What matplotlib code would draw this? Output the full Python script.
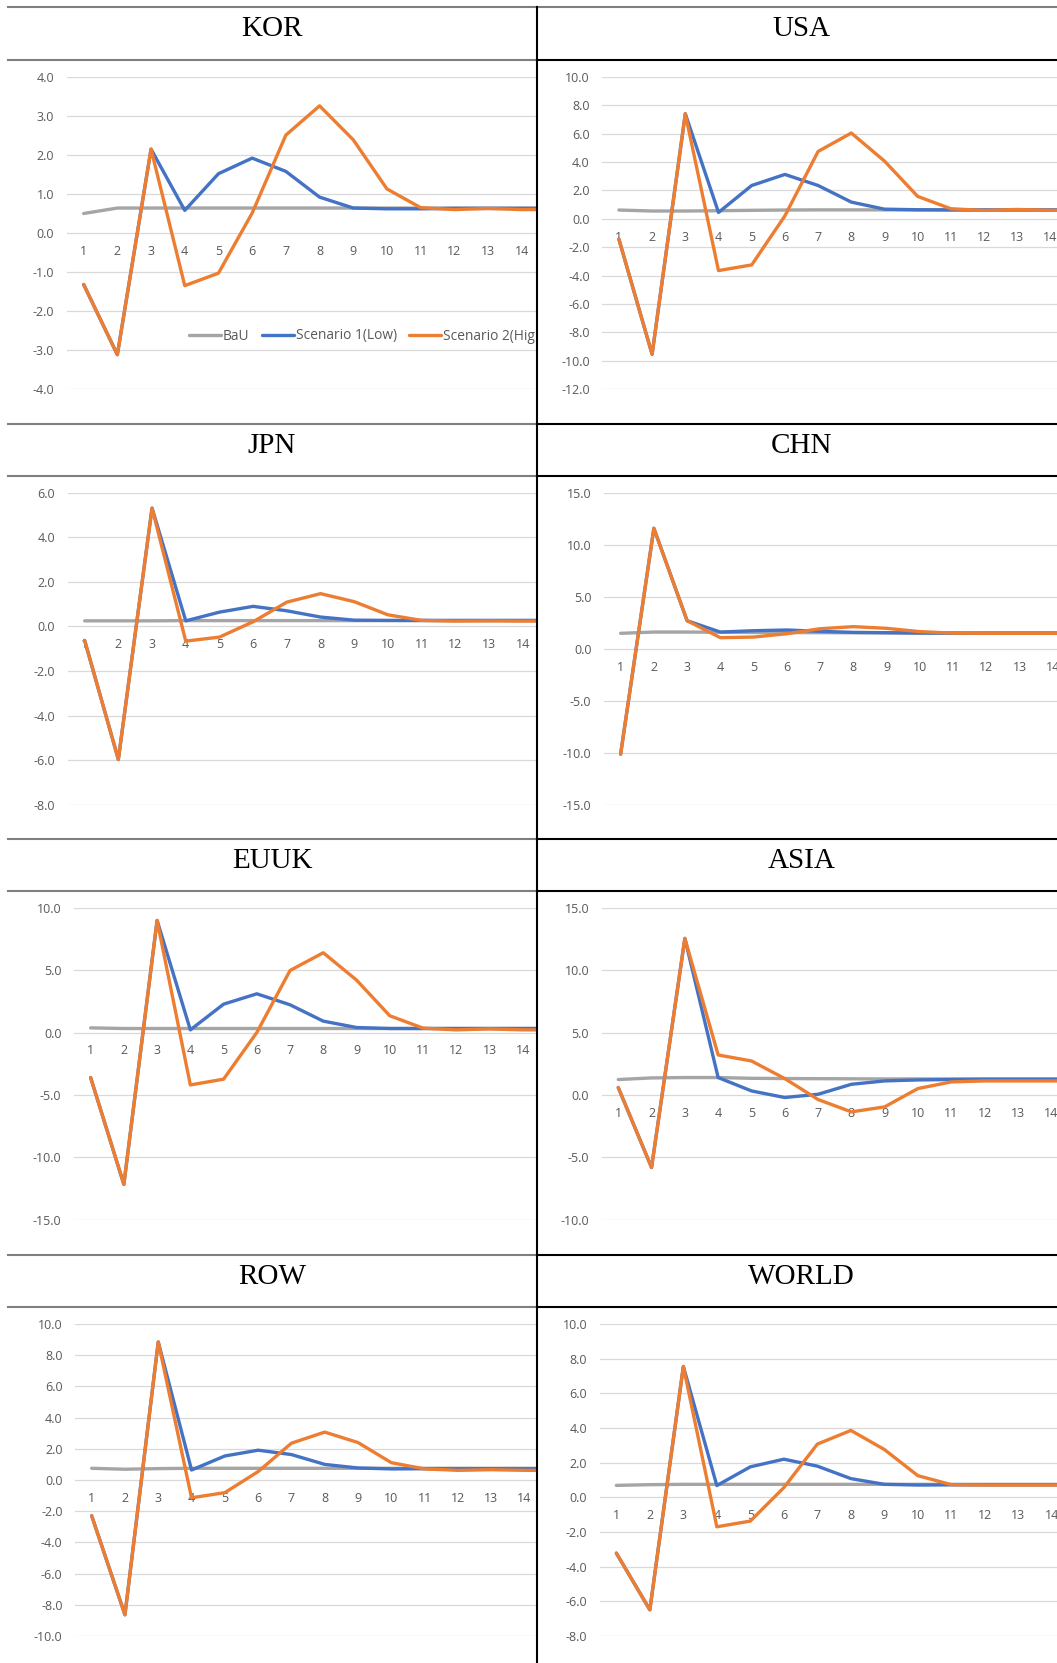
import matplotlib
matplotlib.use("Agg")
import matplotlib.pyplot as plt
from matplotlib.lines import Line2D
from matplotlib.ticker import FormatStrFormatter, MultipleLocator

plt.rcParams["axes.unicode_minus"] = False
plt.rcParams["font.family"] = ["Open Sans", "DejaVu Sans"]

W, H = 1057, 1663

# ---- data ----
periods = list(range(1, 16))
series_labels = ["BaU", "Scenario 1(Low)", "Scenario 2(High)"]
regions = ["KOR", "USA", "JPN", "CHN", "EUUK", "ASIA", "ROW", "WORLD"]

kor_bau = [0.50, 0.64, 0.64, 0.64, 0.64, 0.64, 0.64, 0.64, 0.64, 0.64, 0.64, 0.64, 0.64, 0.64, 0.64]
kor_low = [-1.32, -3.12, 2.15, 0.58, 1.52, 1.92, 1.58, 0.92, 0.64, 0.62, 0.62, 0.63, 0.63, 0.63, 0.63]
kor_high = [-1.32, -3.12, 2.15, -1.35, -1.03, 0.51, 2.51, 3.26, 2.39, 1.13, 0.65, 0.60, 0.63, 0.60, 0.60]

usa_bau = [0.62, 0.55, 0.55, 0.57, 0.60, 0.62, 0.63, 0.63, 0.63, 0.62, 0.62, 0.62, 0.62, 0.62, 0.62]
usa_low = [-1.44, -9.55, 7.41, 0.45, 2.35, 3.13, 2.35, 1.18, 0.68, 0.64, 0.63, 0.63, 0.63, 0.63, 0.63]
usa_high = [-1.44, -9.55, 7.41, -3.65, -3.25, 0.21, 4.75, 6.05, 4.07, 1.58, 0.71, 0.59, 0.66, 0.60, 0.60]

jpn_bau = [0.25, 0.25, 0.25, 0.26, 0.26, 0.26, 0.26, 0.26, 0.26, 0.26, 0.26, 0.26, 0.26, 0.26, 0.26]
jpn_low = [-0.63, -5.97, 5.31, 0.25, 0.64, 0.90, 0.70, 0.42, 0.28, 0.27, 0.27, 0.27, 0.27, 0.27, 0.27]
jpn_high = [-0.63, -5.97, 5.31, -0.66, -0.48, 0.21, 1.09, 1.47, 1.11, 0.52, 0.27, 0.24, 0.25, 0.24, 0.24]

chn_bau = [1.48, 1.60, 1.60, 1.58, 1.56, 1.55, 1.54, 1.53, 1.52, 1.51, 1.50, 1.50, 1.50, 1.50, 1.50]
chn_low = [-10.14, 11.58, 2.69, 1.60, 1.73, 1.80, 1.67, 1.57, 1.54, 1.50, 1.50, 1.50, 1.50, 1.50, 1.50]
chn_high = [-10.14, 11.58, 2.69, 1.06, 1.12, 1.44, 1.92, 2.12, 1.96, 1.64, 1.50, 1.48, 1.48, 1.48, 1.48]

euuk_bau = [0.37, 0.32, 0.32, 0.32, 0.32, 0.32, 0.32, 0.32, 0.32, 0.32, 0.32, 0.32, 0.32, 0.32, 0.32]
euuk_low = [-3.61, -12.17, 8.98, 0.21, 2.27, 3.10, 2.22, 0.91, 0.40, 0.32, 0.32, 0.32, 0.32, 0.32, 0.32]
euuk_high = [-3.61, -12.17, 8.98, -4.20, -3.74, 0.00, 4.97, 6.39, 4.20, 1.34, 0.35, 0.21, 0.29, 0.21, 0.21]

asia_bau = [1.23, 1.36, 1.39, 1.39, 1.33, 1.31, 1.30, 1.29, 1.28, 1.28, 1.28, 1.28, 1.28, 1.28, 1.28]
asia_low = [0.59, -5.82, 12.54, 1.39, 0.32, -0.21, 0.05, 0.85, 1.12, 1.20, 1.23, 1.25, 1.25, 1.25, 1.25]
asia_high = [0.59, -5.82, 12.54, 3.20, 2.72, 1.31, -0.37, -1.36, -0.96, 0.51, 1.04, 1.12, 1.12, 1.12, 1.12]

row_bau = [0.75, 0.69, 0.73, 0.75, 0.75, 0.75, 0.75, 0.75, 0.75, 0.75, 0.75, 0.75, 0.75, 0.75, 0.75]
row_low = [-2.29, -8.64, 8.85, 0.64, 1.54, 1.91, 1.63, 1.00, 0.77, 0.71, 0.72, 0.72, 0.72, 0.72, 0.72]
row_high = [-2.29, -8.64, 8.85, -1.14, -0.81, 0.54, 2.36, 3.07, 2.40, 1.11, 0.71, 0.62, 0.66, 0.62, 0.62]

world_bau = [0.69, 0.73, 0.75, 0.75, 0.75, 0.75, 0.75, 0.75, 0.75, 0.75, 0.75, 0.75, 0.75, 0.75, 0.75]
world_low = [-3.22, -6.49, 7.55, 0.68, 1.76, 2.20, 1.80, 1.08, 0.75, 0.71, 0.72, 0.72, 0.72, 0.72, 0.72]
world_high = [-3.22, -6.49, 7.55, -1.70, -1.37, 0.56, 3.07, 3.86, 2.76, 1.25, 0.73, 0.71, 0.71, 0.71, 0.71]

series = {
    "KOR": (kor_bau, kor_low, kor_high),
    "USA": (usa_bau, usa_low, usa_high),
    "JPN": (jpn_bau, jpn_low, jpn_high),
    "CHN": (chn_bau, chn_low, chn_high),
    "EUUK": (euuk_bau, euuk_low, euuk_high),
    "ASIA": (asia_bau, asia_low, asia_high),
    "ROW": (row_bau, row_low, row_high),
    "WORLD": (world_bau, world_low, world_high),
}
# y range and major step of each chart
y_ranges = {
    "KOR": (-4, 4, 1), "USA": (-12, 10, 2),
    "JPN": (-8, 6, 2), "CHN": (-15, 15, 5),
    "EUUK": (-15, 10, 5), "ASIA": (-10, 15, 5),
    "ROW": (-10, 10, 2), "WORLD": (-8, 10, 2),
}

# ---- layout in pixels ----
row_top = [7.3, 424, 839, 1255]
row_head = [60, 475.7, 890.7, 1307]
divider_x = 536.5
cell_left = [7.6, divider_x]
cell_right = [divider_x, W]
title_x = [272, 801.6]
# plot-area left edge and category spacing (px)
plot_left = {"KOR": 66.8, "USA": 602.3, "JPN": 67.8, "CHN": 604,
             "EUUK": 74, "ASIA": 601.6, "ROW": 75, "WORLD": 599.6}
cat_step = {"KOR": 33.7, "USA": 33.2, "JPN": 33.7, "CHN": 33.24,
            "EUUK": 33.24, "ASIA": 33.3, "ROW": 33.3, "WORLD": 33.5}

colors = ["#A5A5A5", "#4472C4", "#ED7D31"]
label_color = "#595959"
grid_color = "#D9D9D9"
tick_size = 9


def fx(px):
    return px / W


def fy(py):
    return 1 - py / H


fig = plt.figure(figsize=(W / 100, H / 100), dpi=100)

for i, name in enumerate(regions):
    r, c = divmod(i, 2)
    left = plot_left[name]
    right = cell_right[c]
    top = row_head[r] + 17
    bottom = top + 312
    ax = fig.add_axes([fx(left), fy(bottom), (right - left) / W, (bottom - top) / H])

    lo, hi, step = y_ranges[name]
    for vals, col, lab in zip(series[name], colors, series_labels):
        ax.plot(periods, vals, color=col, lw=2.4, label=lab,
                solid_joinstyle="round", solid_capstyle="round")

    # ticks first: set_xticks would widen the view to show tick 15
    ax.set_xticks(periods)
    ax.set_xlim(0.5, 0.5 + (right - left) / cat_step[name])
    ax.set_ylim(lo, hi)
    ax.yaxis.set_major_locator(MultipleLocator(step))
    ax.yaxis.set_major_formatter(FormatStrFormatter("%.1f"))
    ax.grid(axis="y", color=grid_color, lw=0.9)
    ax.set_axisbelow(True)
    for s in ["top", "right", "left"]:
        ax.spines[s].set_visible(False)
    ax.spines["bottom"].set_position(("data", 0))
    ax.spines["bottom"].set_color("none")
    ax.tick_params(axis="y", length=0, pad=9, labelsize=tick_size, labelcolor=label_color)
    ax.tick_params(axis="x", length=0, pad=8.5, labelsize=tick_size, labelcolor=label_color)

    # region name in the header cell
    fig.text(fx(title_x[c]), fy(row_top[r] + 29), name, ha="center", va="baseline",
             fontsize=21, family="Liberation Serif", color="black")

    if name == "KOR":
        leg = ax.legend(loc="center left", bbox_to_anchor=(fx(188.7), fy(336)),
                        bbox_transform=fig.transFigure, ncol=3, frameon=False,
                        fontsize=9.9, borderpad=0, borderaxespad=0,
                        handlelength=2.33, handletextpad=0.15, columnspacing=0.9,
                        labelcolor=label_color)
        for t in leg.get_texts():
            t.set_clip_box(ax.bbox)
            t.set_clip_on(True)

# ---- table rules ----
for r in range(4):
    for y in (row_top[r], row_head[r]):
        left_col = "#7F7F7F"
        right_col = "#7F7F7F" if y == row_top[0] else "black"
        fig.add_artist(Line2D([fx(cell_left[0]), fx(divider_x)], [fy(y), fy(y)],
                              color=left_col, lw=1.5))
        fig.add_artist(Line2D([fx(divider_x), fx(W)], [fy(y), fy(y)],
                              color=right_col, lw=1.5))
fig.add_artist(Line2D([fx(divider_x), fx(divider_x)], [fy(row_top[0]), fy(H)],
                      color="black", lw=1.5))

fig.savefig("out.png", dpi=100)
